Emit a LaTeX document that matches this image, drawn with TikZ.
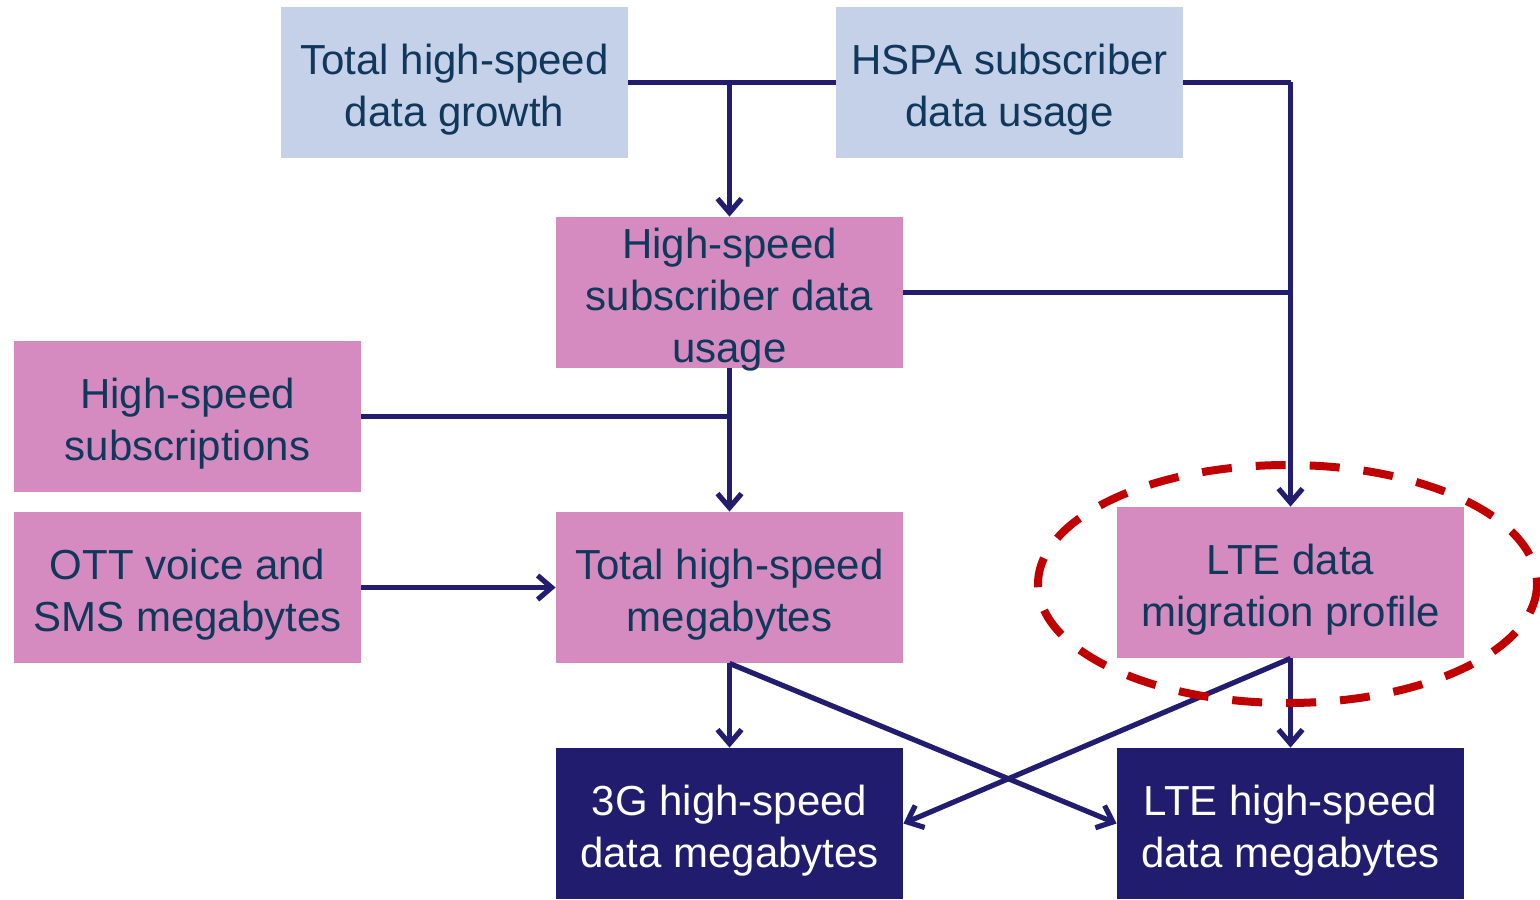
\documentclass[tikz,border=0pt]{standalone}
\usepackage{fontspec}
\setmainfont{Liberation Sans}
\usepackage{tikz}
\usetikzlibrary{arrows.meta,calc,positioning}

\definecolor{boxblue}{HTML}{C5D0E9}
\definecolor{boxpink}{HTML}{D58BBF}
\definecolor{boxnavy}{HTML}{221C6E}
\definecolor{textteal}{HTML}{10375C}
\definecolor{linkblue}{HTML}{231D70}
\definecolor{markred}{HTML}{C00000}

% text lines of a box, set a little low (no size, so boxes keep their height)
\newcommand{\boxlines}[1]{\raisebox{-8.75pt}[0pt][0pt]{%
  \begin{tabular}{@{}c@{}}#1\end{tabular}}}

\begin{document}
\begin{tikzpicture}[x=0.5pt, y=-0.5pt,
  box/.style={inner sep=0pt, minimum width=173.5pt, minimum height=75.5pt,
    font=\fontsize{21}{26}\selectfont},
  inbox/.style={box, fill=boxblue, text=textteal},
  midbox/.style={box, fill=boxpink, text=textteal},
  outbox/.style={box, fill=boxnavy, text=white},
  link/.style={draw=linkblue, line width=2.6pt},
  arr/.style={link, -{Straight Barb[length=7pt,width=12pt]}}]
\useasboundingbox (0,0) rectangle (1540,899);

% inputs
\node[inbox] (TOTGROW) at (454.5,82.5) {\boxlines{Total high-speed\\data growth}};
\node[inbox] (HSPA) at (1009.5,82.5) {\boxlines{HSPA subscriber\\data usage}};
% intermediate
\node[midbox] (SUBUSE) at (729.5,292.5) {\boxlines{High-speed\\subscriber data\\usage}};
\node[midbox] (SUBS) at (187.5,416.5) {\boxlines{High-speed\\subscriptions}};
\node[midbox] (OTT) at (187.5,587.5) {\boxlines{OTT voice and\\SMS megabytes}};
\node[midbox] (TOTMB) at (729.5,587.5) {\boxlines{Total high-speed\\megabytes}};
\node[midbox] (LTEMIG) at (1290.5,582.5) {\boxlines{LTE data\\migration profile}};
% outputs
\node[outbox] (MB3G) at (729.5,823.5) {\boxlines{3G high-speed\\data megabytes}};
\node[outbox] (MBLTE) at (1290.5,823.5) {\boxlines{LTE high-speed\\data megabytes}};

% junctions
\coordinate (J1) at (SUBUSE.north |- TOTGROW.east);
\coordinate (J2) at (LTEMIG.north |- HSPA.east);
\coordinate (J3) at (LTEMIG.north |- SUBUSE.east);
\coordinate (J4) at (TOTMB.north |- SUBS.east);

\draw[link] (TOTGROW.east) -- (HSPA.west);
\draw[arr] (J1) -- (SUBUSE.north);
\draw[link] (HSPA.east) -- (J2);
\draw[arr] (J2) -- (LTEMIG.north);
\draw[link] (SUBUSE.east) -- (J3);
\draw[link] (SUBS.east) -- (J4);
\draw[arr] (SUBUSE.south) -- (TOTMB.north);
\draw[arr] (OTT.east) -- (TOTMB.west);
\draw[arr] (TOTMB.south) -- (MB3G.north);
\draw[arr] (TOTMB.south) -- (MBLTE.west);
\draw[arr] (LTEMIG.south) -- (MBLTE.north);
\draw[arr] (LTEMIG.south) -- (MB3G.east);

% highlight
\draw[markred, line width=4pt, dash pattern=on 15pt off 12pt]
  (1287.5,584) ellipse [x radius=249.5, y radius=119];
\end{tikzpicture}
\end{document}
